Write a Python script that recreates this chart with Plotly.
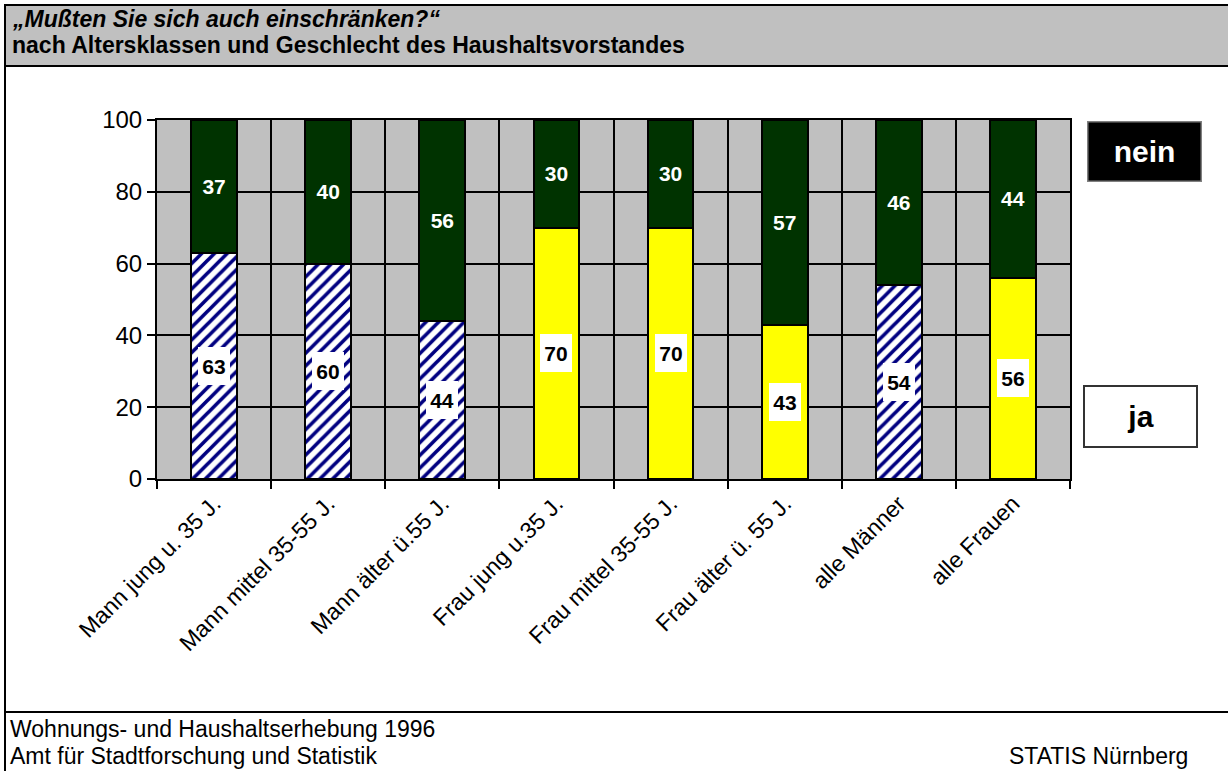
import plotly.graph_objects as go

# Survey answers by age class and sex of head of household (percent)
categories = [
    "Mann jung u. 35 J.",
    "Mann mittel 35-55 J.",
    "Mann älter ü.55 J.",
    "Frau jung u.35 J.",
    "Frau mittel 35-55 J.",
    "Frau älter ü. 55 J.",
    "alle Männer",
    "alle Frauen",
]
sex = ["m", "m", "m", "f", "f", "f", "m", "f"]
ja = [63, 60, 44, 70, 70, 43, 54, 56]
nein = [37, 40, 56, 30, 30, 57, 46, 44]
y_ticks = [0, 20, 40, 60, 80, 100]

FONT = "Liberation Sans, Arial, sans-serif"
W, H = 1228, 771
PL, PR, PT, PB = 157, 1070, 120, 479  # plot area in pixels


def px(x):
    return (x - PL) / (PR - PL)


def py(y):
    return (PB - y) / (PB - PT)


ja_men = [v if s == "m" else None for v, s in zip(ja, sex)]
ja_women = [v if s == "f" else None for v, s in zip(ja, sex)]

fig = go.Figure()
fig.add_trace(go.Bar(
    x=categories, y=ja_men, name="ja (Männer)",
    marker=dict(
        color="white",
        line=dict(color="black", width=2),
        pattern=dict(shape="/", fgcolor="#000080", bgcolor="white",
                     fgopacity=1, size=9, solidity=0.4),
    ),
    hoverinfo="skip",
))
fig.add_trace(go.Bar(
    x=categories, y=ja_women, name="ja (Frauen)",
    marker=dict(color="#FFFF00", line=dict(color="black", width=2)),
    hoverinfo="skip",
))
fig.add_trace(go.Bar(
    x=categories, y=nein, name="nein",
    marker=dict(color="#003300", line=dict(color="black", width=2)),
    text=[str(v) for v in nein],
    textposition="inside", insidetextanchor="middle", textangle=0,
    constraintext="none",
    textfont=dict(family=FONT, size=21, color="white", weight="bold"),
    hoverinfo="skip",
))

annotations = []
# value boxes for the "ja" segments
for c, v in zip(categories, ja):
    annotations.append(dict(
        x=c, y=v / 2, xref="x", yref="y", text="<b>%d</b>" % v,
        showarrow=False, bgcolor="white", width=32, height=38,
        borderpad=0, borderwidth=0,
        font=dict(family=FONT, size=21, color="black"),
    ))

# legend boxes
annotations.append(dict(
    x=px(1144.5), y=py(151), xref="paper", yref="paper",
    xanchor="center", yanchor="middle",
    text="<b>nein</b>", showarrow=False, bgcolor="black",
    bordercolor="#808080", borderwidth=1.5, width=112, height=58, borderpad=0,
    font=dict(family=FONT, size=30, color="white"),
))
annotations.append(dict(
    x=px(1140.5), y=py(416.5), xref="paper", yref="paper",
    xanchor="center", yanchor="middle",
    text="<b>ja</b>", showarrow=False, bgcolor="white",
    bordercolor="#333333", borderwidth=2, width=111, height=59, borderpad=0,
    font=dict(family=FONT, size=30, color="black"),
))

# title lines
title_font = dict(family=FONT, size=23, color="black")
annotations.append(dict(
    x=px(10), y=py(18.5), xref="paper", yref="paper", xanchor="left",
    yanchor="middle", showarrow=False,
    text="<b><i>„Mußten Sie sich auch einschränken?“</i></b>",
    font=title_font,
))
annotations.append(dict(
    x=px(10), y=py(44.5), xref="paper", yref="paper", xanchor="left",
    yanchor="middle", showarrow=False,
    text="<b>nach Altersklassen und Geschlecht des Haushaltsvorstandes</b>",
    font=title_font,
))

# footer lines
footer_font = dict(family=FONT, size=23, color="black")
annotations.append(dict(
    x=px(8), y=py(729), xref="paper", yref="paper", xanchor="left",
    yanchor="middle", showarrow=False,
    text="Wohnungs- und Haushaltserhebung 1996", font=footer_font,
))
annotations.append(dict(
    x=px(8), y=py(756), xref="paper", yref="paper", xanchor="left",
    yanchor="middle", showarrow=False,
    text="Amt für Stadtforschung und Statistik", font=footer_font,
))
annotations.append(dict(
    x=px(1190), y=py(756), xref="paper", yref="paper", xanchor="right",
    yanchor="middle", showarrow=False,
    text="STATIS Nürnberg", font=footer_font,
))

shapes = [
    # title band
    dict(type="rect", xref="paper", yref="paper",
         x0=px(5), x1=px(1236), y0=py(66), y1=py(5),
         fillcolor="#C0C0C0", line=dict(color="black", width=2), layer="above"),
    # page frame: left edge and footer separator
    dict(type="line", xref="paper", yref="paper",
         x0=px(5), x1=px(5), y0=py(5), y1=py(780),
         line=dict(color="black", width=2)),
    dict(type="line", xref="paper", yref="paper",
         x0=px(5), x1=px(1236), y0=py(712), y1=py(712),
         line=dict(color="black", width=2)),
]

fig.update_layout(
    width=W, height=H,
    margin=dict(l=PL, r=W - PR, t=PT, b=H - PB, pad=0),
    barmode="stack", bargap=0.6,
    showlegend=False,
    paper_bgcolor="white", plot_bgcolor="#C0C0C0",
    font=dict(family=FONT, size=20, color="black"),
    annotations=annotations, shapes=shapes,
)
fig.update_xaxes(
    type="category", tickson="boundaries",
    showgrid=True, gridcolor="black", gridwidth=2,
    showline=True, linecolor="black", linewidth=2, mirror=True,
    ticks="outside", ticklen=8, tickwidth=2, tickcolor="black",
    tickangle=-45, tickfont=dict(family=FONT, size=23),
)
fig.update_yaxes(
    range=[0, 100], tickvals=y_ticks, ticktext=[str(v) for v in y_ticks],
    showgrid=True, gridcolor="black", gridwidth=2, zeroline=False,
    showline=True, linecolor="black", linewidth=2, mirror=True,
    ticks="outside", ticklen=8, tickwidth=2, tickcolor="black",
    tickfont=dict(family=FONT, size=24),
)

fig.write_html("out.html")
